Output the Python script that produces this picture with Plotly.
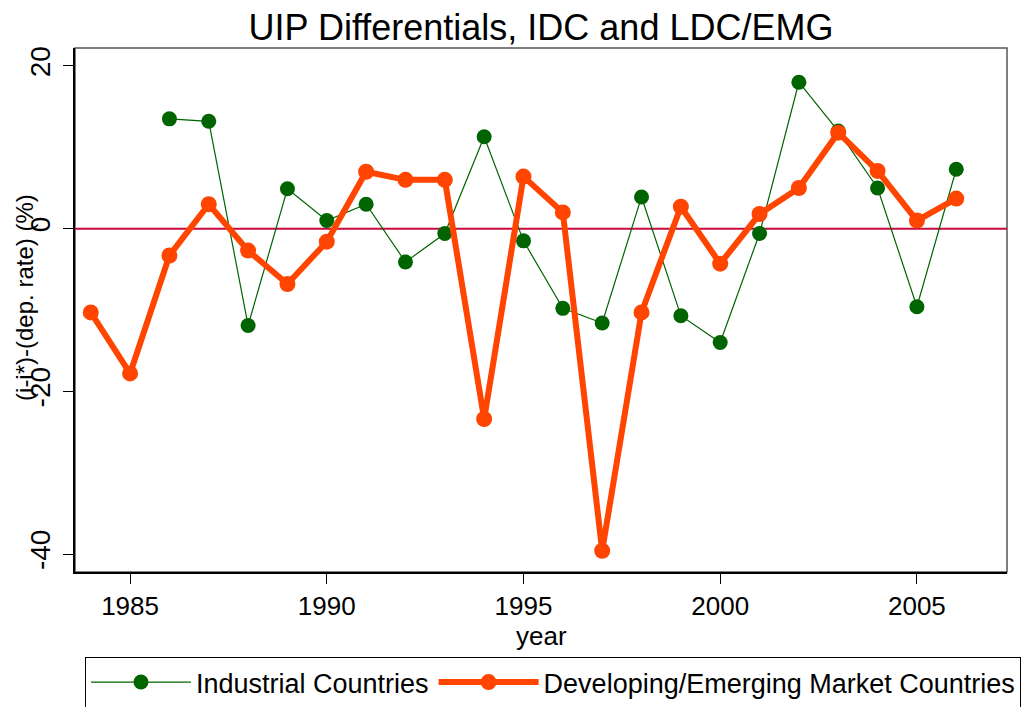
import plotly.graph_objects as go

years_idc = list(range(1986, 2007))
idc = [13.5, 13.2, -11.9, 4.9, 1.0, 3.0, -4.1, -0.6, 11.3, -1.5, -9.8, -11.6,
       3.9, -10.7, -14.0, -0.6, 18.0, 12.0, 5.0, -9.6, 7.3]

years_ldc = list(range(1984, 2007))
ldc = [-10.3, -17.8, -3.3, 3.0, -2.7, -6.8, -1.6, 7.0, 6.0, 6.0, -23.4, 6.4,
       2.0, -39.6, -10.3, 2.7, -4.3, 1.8, 5.0, 11.8, 7.1, 1.0, 3.7]

x_ticks = [1985, 1990, 1995, 2000, 2005]
y_ticks = [20, 0, -20, -40]
y_tick_text = ["20", "0", "-20", "-40"]

FONT = "Liberation Sans, Arial, sans-serif"
# page body has an 8px default margin; figure is sized to compensate
W, H = 1022, 699

fig = go.Figure()
fig.add_trace(go.Scatter(
    x=years_idc, y=idc, mode="lines+markers", name="Industrial Countries",
    line=dict(color="#006400", width=1.2),
    marker=dict(color="#006400", size=15)))
fig.add_trace(go.Scatter(
    x=years_ldc, y=ldc, mode="lines+markers",
    name="Developing/Emerging Market Countries",
    line=dict(color="#FF4500", width=6),
    marker=dict(color="#FF4500", size=16)))

fig.add_shape(type="rect", xref="paper", yref="paper", x0=0, x1=1, y0=0, y1=1,
              line=dict(color="#555555", width=1.5), layer="below")
fig.add_shape(type="line", xref="paper", yref="y", x0=0, x1=1, y0=0, y1=0,
              line=dict(color="#C80A3C", width=2), layer="below")

fig.add_annotation(text="(i-i*)-(dep. rate) (%)", xref="paper", yref="paper",
                   x=0, y=0.523, xshift=-50, xanchor="center", yanchor="middle",
                   textangle=-90, showarrow=False,
                   font=dict(size=24, color="black", family=FONT))
fig.add_annotation(text="year", xref="paper", yref="paper",
                   x=0.5, y=0, yshift=-64, xanchor="center", yanchor="middle",
                   showarrow=False,
                   font=dict(size=26, color="black", family=FONT))

fig.update_layout(
    width=W, height=H,
    margin=dict(l=67, r=23, t=40, b=135, autoexpand=False),
    paper_bgcolor="white", plot_bgcolor="white",
    font=dict(family=FONT, color="black"),
    title=dict(text="UIP Differentials, IDC and LDC/EMG", x=0.5, xref="paper",
               xanchor="center", y=1 - 19 / H, yanchor="middle",
               font=dict(size=36, color="black", family=FONT)),
    xaxis=dict(range=[1983.6, 2007.29], tickvals=x_ticks, showgrid=False,
               zeroline=False, showline=True, linecolor="black", linewidth=1.5,
               ticks="outside", ticklen=10, tickcolor="black", automargin=False,
               tickfont=dict(size=26, family=FONT)),
    yaxis=dict(range=[-42.21, 22.21], tickvals=y_ticks, ticktext=y_tick_text,
               showgrid=False, automargin=False,
               zeroline=False, showline=True, linecolor="black", linewidth=1.5,
               ticks="outside", ticklen=10, tickcolor="black", tickangle=-90,
               ticklabelstandoff=2,
               tickfont=dict(size=28, family=FONT)),
    showlegend=True,
    legend=dict(orientation="h", x=0.0107, xanchor="left", y=-0.1622,
                yanchor="top", bordercolor="black", borderwidth=1,
                itemwidth=100, font=dict(size=27, family=FONT),
                bgcolor="white", traceorder="normal"),
)

fig.write_html("out.html")
